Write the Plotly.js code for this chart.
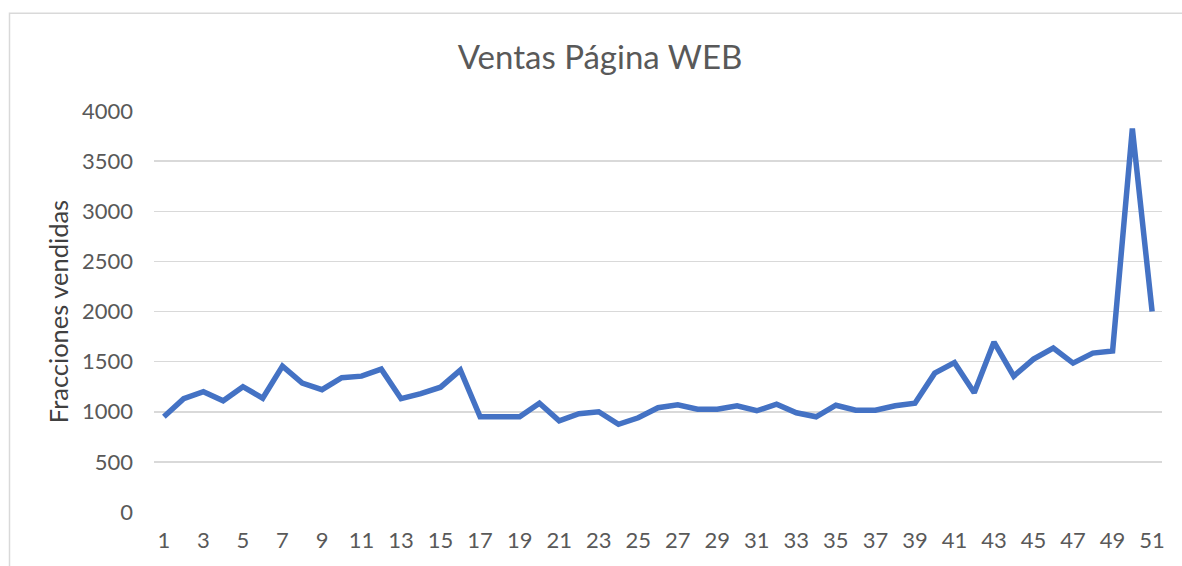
<!DOCTYPE html>
<html>
<head>
<meta charset="utf-8">
<script src="https://cdn.plot.ly/plotly-3.0.1.min.js"></script>
<style>
html,body{margin:0;padding:0;background:#fff;}
#chart{width:1182px;height:566px;}
</style>
</head>
<body>
<div id="chart"></div>
<script>
const chartTitle = "Ventas Página WEB";
const yAxisTitle = "Fracciones vendidas";
const semanas = [1,2,3,4,5,6,7,8,9,10,11,12,13,14,15,16,17,18,19,20,21,22,23,24,25,26,27,28,29,30,31,32,33,34,35,36,37,38,39,40,41,42,43,44,45,46,47,48,49,50,51];
const ventas = [950,1130,1200,1110,1250,1135,1455,1285,1220,1340,1355,1425,1130,1180,1245,1415,950,950,950,1085,910,980,1000,875,940,1040,1070,1025,1025,1060,1010,1075,990,950,1065,1015,1015,1060,1085,1385,1490,1190,1695,1355,1525,1635,1485,1585,1605,3825,2000];
const yTicks = [0,500,1000,1500,2000,2500,3000,3500,4000];

const W = 1182, H = 566;
const L = 154, R = 20, T = 110.5, B = 53.5;
const pw = W - L - R, ph = H - T - B;

const trace = {
  x: semanas,
  y: ventas,
  type: 'scatter',
  mode: 'lines',
  line: {color: '#4472C4', width: 5.5, shape: 'linear'},
  hoverinfo: 'x+y'
};

const layout = {
  width: W, height: H,
  margin: {l: L, r: R, t: T, b: B, pad: 0},
  paper_bgcolor: '#ffffff',
  plot_bgcolor: '#ffffff',
  showlegend: false,
  font: {family: 'Lato, "Open Sans", sans-serif', color: '#595959'},
  title: {
    text: chartTitle,
    font: {family: 'Lato, "Open Sans", sans-serif', size: 33, color: '#595959'},
    xref: 'container', x: 600 / W, xanchor: 'center',
    yref: 'container', y: 1 - 57 / H, yanchor: 'middle'
  },
  xaxis: {
    range: [0.5, 51.5],
    tickmode: 'linear', tick0: 1, dtick: 2,
    showgrid: false, zeroline: false, showline: false,
    ticks: '',
    ticklabelstandoff: 13,
    tickfont: {size: 22, color: '#595959'},
    fixedrange: true
  },
  yaxis: {
    range: [0, 4000],
    tickmode: 'array', tickvals: yTicks, ticktext: yTicks.map(String),
    showgrid: true, gridcolor: '#d9d9d9', gridwidth: 1.5,
    zeroline: false, showline: false,
    ticks: '',
    ticklabelstandoff: 20,
    tickfont: {size: 22, color: '#595959'},
    title: {text: yAxisTitle, standoff: 6, font: {size: 25.5, color: '#404040'}},
    fixedrange: true
  },
  shapes: [{
    type: 'rect', layer: 'below',
    xref: 'paper', yref: 'paper',
    x0: (9.5 - L) / pw, x1: (W + 10 - L) / pw,
    y0: (T + ph - (H + 10)) / ph, y1: (T + ph - 12.5) / ph,
    line: {color: '#d9d9d9', width: 1.5},
    fillcolor: 'rgba(0,0,0,0)'
  }]
};

Plotly.newPlot('chart', [trace], layout, {displayModeBar: false, staticPlot: true});
</script>
</body>
</html>
